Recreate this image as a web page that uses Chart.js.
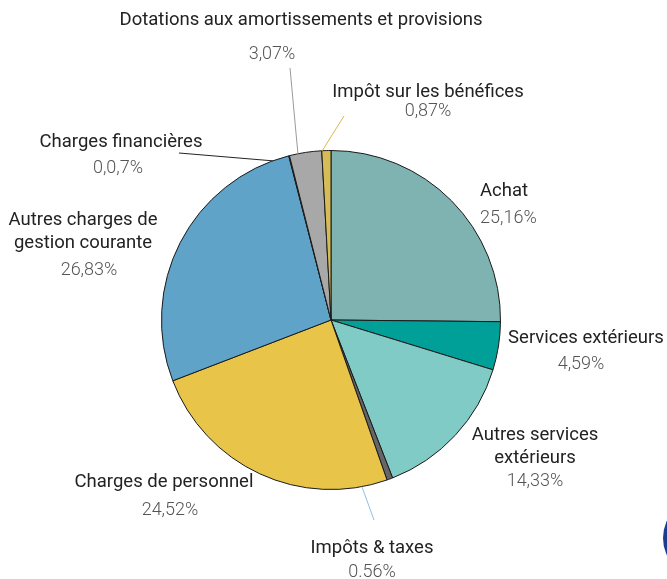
<!DOCTYPE html>
<html lang="fr">
<head>
<meta charset="UTF-8">
<title>Répartition des charges</title>
<script src="https://cdn.jsdelivr.net/npm/chart.js@4.4.1/dist/chart.umd.min.js"></script>
<style>
  html, body { margin: 0; padding: 0; background: #fff; }
  #wrap { width: 667px; height: 579px; position: relative; }
</style>
</head>
<body>
<div id="wrap"><canvas id="myChart" width="667" height="579"></canvas></div>
<script>
// categories, clockwise from 12 o'clock
const categories = [
  'Achat',
  'Services extérieurs',
  'Autres services extérieurs',
  'Impôts & taxes',
  'Charges de personnel',
  'Autres charges de gestion courante',
  'Charges financières',
  'Dotations aux amortissements et provisions',
  'Impôt sur les bénéfices'
];
const values = [25.16, 4.59, 14.33, 0.56, 24.52, 26.83, 0.07, 3.07, 0.87];
// percent texts as printed on the picture
const pctLabels = ['25,16%', '4,59%', '14,33%', '0.56%', '24,52%', '26,83%', '0,0,7%', '3,07%', '0,87%'];
// name text as broken into lines
const nameLines = [
  ['Achat'],
  ['Services extérieurs'],
  ['Autres services', 'extérieurs'],
  ['Impôts & taxes'],
  ['Charges de personnel'],
  ['Autres charges de', 'gestion courante'],
  ['Charges financières'],
  ['Dotations aux amortissements et provisions'],
  ['Impôt sur les bénéfices']
];
const colors = ['#7fb3b1', '#009f98', '#80cbc5', '#666666', '#e8c449', '#5fa3c9', '#333333', '#a8a8a8', '#d5bc57'];

// where each text block sits (x, first line y, percent y, alignment)
const labelPos = [
  { x: 480, y: 191, py: 218, align: 'left' },
  { x: 586, y: 338, py: 364, align: 'center', px: 581 },
  { x: 535, y: 435, py: 481, align: 'center' },
  { x: 372, y: 548, py: 572, align: 'center' },
  { x: 164, y: 482, py: 510, align: 'center', px: 170 },
  { x: 83, y: 220, py: 270, align: 'center', px: 89 },
  { x: 121, y: 142, py: 168, align: 'center', px: 118 },
  { x: 301, y: 20, py: 54, align: 'center', px: 272 },
  { x: 428, y: 92, py: 111, align: 'center' }
];
// leader lines: slice index, angle shift (deg) from slice middle, outer end
const leaders = [
  { i: 7, shift: -2.6, x: 290, y: 68, color: '#9a9a9a' },
  { i: 8, shift: -1.4, x: 344, y: 116, color: '#d9b94a' },
  { i: 6, shift: -5.8, x: 179, y: 153, color: '#222222' },
  { i: 3, shift: 9.8, x: 374, y: 520, color: '#8ec0dc' }
];

const labelPlugin = {
  id: 'sliceLabels',
  afterDraw(chart) {
    const c = chart.ctx;
    const arcs = chart.getDatasetMeta(0).data;
    c.save();
    // leader lines
    c.lineWidth = 1;
    leaders.forEach((l) => {
      const a = arcs[l.i];
      const mid = (a.startAngle + a.endAngle) / 2 + l.shift * Math.PI / 180;
      const ex = a.x + Math.cos(mid) * a.outerRadius;
      const ey = a.y + Math.sin(mid) * a.outerRadius;
      c.strokeStyle = l.color;
      c.beginPath();
      c.moveTo(l.x, l.y);
      c.lineTo(ex, ey);
      c.stroke();
    });
    // texts
    c.textBaseline = 'middle';
    nameLines.forEach((lines, i) => {
      const p = labelPos[i];
      c.textAlign = p.align;
      c.fillStyle = '#222222';
      c.font = '400 18.5px Roboto, "Noto Sans", sans-serif';
      lines.forEach((t, k) => c.fillText(t, p.x, p.y + k * 23));
      c.fillStyle = '#555555';
      c.font = '300 18px Roboto, "Noto Sans", sans-serif';
      c.fillText(pctLabels[i], p.px !== undefined ? p.px : p.x, p.py);
    });
    // cut-off round badge at the bottom right corner
    c.fillStyle = '#1f3b8f';
    c.beginPath();
    c.arc(chart.width + 36, 538, 40, 0, Math.PI * 2);
    c.fill();
    c.restore();
  }
};

var ctx = document.getElementById('myChart').getContext('2d');
var myChart = new Chart(ctx, {
  type: 'pie',
  data: {
    labels: categories,
    datasets: [{
      data: values,
      backgroundColor: colors,
      borderColor: '#1a1a1a',
      borderWidth: 1
    }]
  },
  options: {
    responsive: false,
    animation: false,
    layout: { padding: { left: 161, right: 166, top: 150, bottom: 89 } },
    plugins: {
      legend: { display: false },
      tooltip: { enabled: false }
    }
  },
  plugins: [labelPlugin]
});
</script>
</body>
</html>
